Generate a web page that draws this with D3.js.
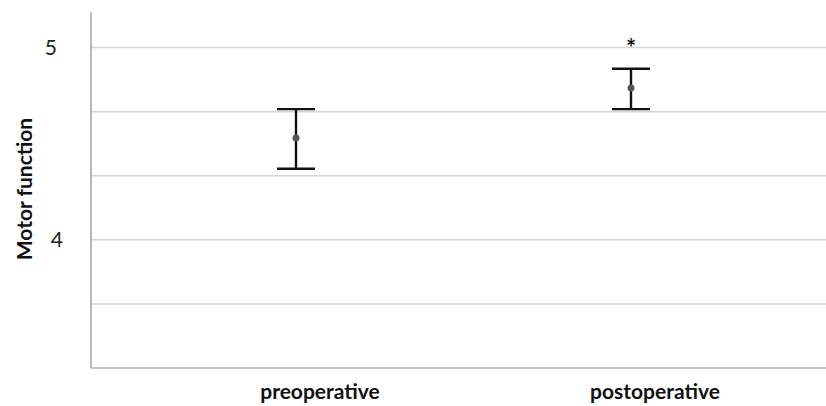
<!DOCTYPE html>
<html>
<head>
<meta charset="utf-8">
<script src="https://cdn.jsdelivr.net/npm/d3@7"></script>
<style>
  body { margin: 0; background: #fff; }
  svg { display: block; }
</style>
</head>
<body>
<div id="chart"></div>
<script>
const width = 826;
const height = 406;

// values
const categories = ["preoperative", "postoperative"];
const means = [4.53, 4.79];
const upper = [4.68, 4.89];
const lower = [4.37, 4.68];
const significant = [false, true];
const yTicks = [5, 4];
const gridValues = [5, 14 / 3, 13 / 3, 4, 11 / 3];

const svg = d3.select("#chart").append("svg")
    .attr("width", width)
    .attr("height", height);

const axisX = 91;
const y = d3.scaleLinear()
    .domain([10 / 3, 5 + 35 / 192])
    .range([368, 12.5]);

// error bars sit at 296 and 631
const x = d3.scalePoint()
    .domain(categories)
    .range([296, 631]);

// gridlines
svg.selectAll("line.grid")
    .data(gridValues)
    .enter().append("line")
    .attr("class", "grid")
    .attr("x1", axisX)
    .attr("x2", width)
    .attr("y1", d => y(d))
    .attr("y2", d => y(d))
    .attr("stroke", "#d4d4d4")
    .attr("stroke-width", 1.5);

// axis lines
svg.append("line")
    .attr("x1", axisX).attr("x2", axisX)
    .attr("y1", y.range()[1]).attr("y2", y.range()[0])
    .attr("stroke", "#8c8c8c").attr("stroke-width", 1.2);
svg.append("line")
    .attr("x1", axisX).attr("x2", width)
    .attr("y1", y.range()[0]).attr("y2", y.range()[0])
    .attr("stroke", "#8c8c8c").attr("stroke-width", 1.2);

// tick labels
svg.selectAll("text.ytick")
    .data(yTicks)
    .enter().append("text")
    .attr("class", "ytick")
    .attr("x", d => d === 5 ? 57 : 63)
    .attr("y", d => y(d))
    .attr("dy", "0.35em")
    .attr("text-anchor", "end")
    .attr("font-family", "Lato, 'Open Sans', sans-serif")
    .attr("font-size", "21px")
    .attr("fill", "#222")
    .text(d => d);

svg.selectAll("text.xtick")
    .data(categories)
    .enter().append("text")
    .attr("class", "xtick")
    .attr("x", d => x(d) + 24)
    .attr("y", 392)
    .attr("dy", "0.35em")
    .attr("text-anchor", "middle")
    .attr("font-family", "Lato, 'Open Sans', sans-serif")
    .attr("font-weight", "bold")
    .attr("font-size", "21px")
    .attr("fill", "#111")
    .text(d => d);

svg.append("text")
    .attr("transform", "translate(25,189) rotate(-90)")
    .attr("dy", "0.35em")
    .attr("text-anchor", "middle")
    .attr("font-family", "Lato, 'Open Sans', sans-serif")
    .attr("font-weight", "bold")
    .attr("font-size", "21px")
    .attr("fill", "#111")
    .text("Motor function");

// error bars
const capHalf = 19;
const barStroke = 2.4;
const bars = svg.selectAll("g.bar")
    .data(categories)
    .enter().append("g")
    .attr("class", "bar");

bars.append("line")
    .attr("x1", d => x(d)).attr("x2", d => x(d))
    .attr("y1", (d, i) => y(upper[i]))
    .attr("y2", (d, i) => y(lower[i]))
    .attr("stroke", "#111").attr("stroke-width", barStroke);

bars.append("line")
    .attr("x1", d => x(d) - capHalf).attr("x2", d => x(d) + capHalf)
    .attr("y1", (d, i) => y(upper[i])).attr("y2", (d, i) => y(upper[i]))
    .attr("stroke", "#111").attr("stroke-width", barStroke);

bars.append("line")
    .attr("x1", d => x(d) - capHalf).attr("x2", d => x(d) + capHalf)
    .attr("y1", (d, i) => y(lower[i])).attr("y2", (d, i) => y(lower[i]))
    .attr("stroke", "#111").attr("stroke-width", barStroke);

bars.append("circle")
    .attr("cx", d => x(d))
    .attr("cy", (d, i) => y(means[i]))
    .attr("r", 3.5)
    .attr("fill", "#555");

bars.filter((d, i) => significant[i])
    .append("text")
    .attr("x", d => x(d))
    .attr("y", d => y(upper[categories.indexOf(d)]) - 28)
    .attr("dy", "0.7em")
    .attr("text-anchor", "middle")
    .attr("font-family", "Lato, 'Open Sans', sans-serif")
    .attr("font-weight", "bold")
    .attr("font-size", "24px")
    .attr("fill", "#111")
    .text("*");
</script>
</body>
</html>
